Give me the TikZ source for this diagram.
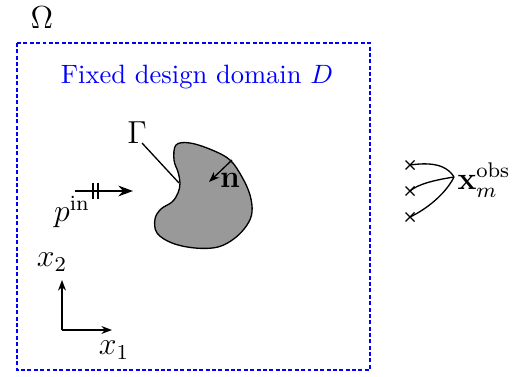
\documentclass[tikz,border=0pt]{standalone}
\usetikzlibrary{arrows.meta}
\begin{document}
\begin{tikzpicture}[x=0.377pt,y=-0.377pt,
  domainbox/.style={draw=blue,line width=0.75pt,dash pattern=on 1.5pt off 0.9pt},
  arr/.style={-{Stealth[length=4pt,width=3pt]},line width=0.5pt},
  lab/.style={font=\large},
  crossmark/.style={line width=0.5pt}]
\useasboundingbox (0,0) rectangle (530,376);
\draw[domainbox] (17,43) rectangle (370,370);
\node[lab] (omega) at (42,18) {$\Omega$};
\node[text=blue] (fixed) at (197,77) {Fixed design domain $D$};
% blob
\draw[fill=black!40,line width=0.5pt] plot[smooth cycle,tension=0.6] coordinates {
 (176,145) (190,143) (212,150) (230,160) (242,177) (250,195) (252,212) (247,225)
 (235,238) (218,247) (195,248) (172,243) (157,233) (155,219) (161,209) (172,202)
 (178,193) (180,183) (178,172) (174,160)};
\coordinate (gtip) at (179,183);
\node[lab] (gamma) at (137,133) {$\Gamma$};
\draw[line width=0.5pt] (142,143) -- (gtip);
\coordinate (nstart) at (232,160);
\coordinate (nend) at (209,182);
\draw[arr] (nstart) -- (nend);
\node[lab] (nlab) at (230,180) {$\mathbf{n}$};
% incoming wave
\coordinate (pa) at (75,191);
\coordinate (pb) at (133,191);
\draw[-{Stealth[length=5.5pt,width=4pt]},line width=1pt] (pa) -- (pb);
\draw[line width=0.5pt] (93,183) -- (93,199) (98,183) -- (98,199);
\node[lab] (pin) at (72,212) {$p^{\mathrm{in}}$};
% axes
\coordinate (o) at (62,330);
\coordinate (e2) at (62,280);
\coordinate (e1) at (112,330);
\draw[arr] (o) -- (e2);
\draw[arr] (o) -- (e1);
\node[lab] (x2) at (52,262) {$x_2$};
\node[lab] (x1) at (114,350) {$x_1$};
% observation points
\coordinate (c1) at (410,165);
\coordinate (c2) at (410,191);
\coordinate (c3) at (410,217);
\foreach \c in {c1,c2,c3}{
  \draw[crossmark] ([shift={(-4.5,-4.5)}]\c) -- ([shift={(4.5,4.5)}]\c) ([shift={(-4.5,4.5)}]\c) -- ([shift={(4.5,-4.5)}]\c);
}
\node[lab,anchor=west,inner sep=0pt] (obs) at (457,180) {$\mathbf{x}_m^{\mathrm{obs}}$};
\coordinate (oc) at (454,177);
\draw[line width=0.5pt] (oc) .. controls (445,162) and (425,163) .. (c1);
\draw[line width=0.5pt] (oc) .. controls (435,180) and (418,184) .. (c2);
\draw[line width=0.5pt] (oc) .. controls (445,195) and (425,210) .. (c3);
\end{tikzpicture}
\end{document}
